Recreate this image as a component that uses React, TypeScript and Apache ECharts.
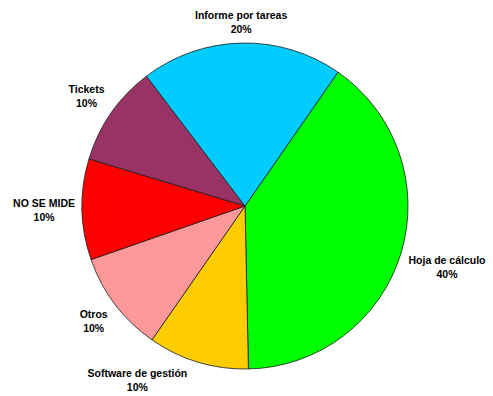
import React, { useEffect, useRef } from "react";
import * as echarts from "echarts";

const categories = ["Hoja de cálculo", "Software de gestión", "Otros", "NO SE MIDE", "Tickets", "Informe por tareas"];
const values = [40, 10, 10, 10, 10, 20];
const colors = ["#00ff00", "#ffcc00", "#ff9999", "#ff0000", "#993366", "#00ccff"];

const W = 493;
const H = 396;
const CX = 245;
const CY = 206;
const R = 163;
const GAP = 7;
const START_CW = 34.8; // degrees clockwise from 12 o'clock

function nearestDist(x: number, y: number, w: number, h: number) {
  const nx = Math.max(x - w / 2, Math.min(CX, x + w / 2));
  const ny = Math.max(y - h / 2, Math.min(CY, y + h / 2));
  return Math.hypot(nx - CX, ny - CY);
}

export default function App() {
  const ref = useRef<HTMLDivElement>(null);
  useEffect(() => {
    if (!ref.current) return;
    const chart = echarts.init(ref.current, undefined, { renderer: "svg" });
    const total = values.reduce((a, b) => a + b, 0);
    chart.setOption({
      animation: false,
      backgroundColor: "#ffffff",
      series: [
        {
          type: "pie",
          center: [CX, CY],
          radius: R,
          startAngle: 90 - START_CW,
          clockwise: true,
          avoidLabelOverlap: false,
          data: categories.map((name, i) => ({
            name,
            value: values[i],
            itemStyle: { color: colors[i] },
          })),
          itemStyle: { borderColor: "#1a1a1a", borderWidth: 0.8 },
          emphasis: { disabled: true },
          label: {
            show: true,
            position: "outside",
            formatter: "{b}\n{d}%",
            fontFamily: "Liberation Sans, Arial, sans-serif",
            fontWeight: "bold",
            fontSize: 10.5,
            lineHeight: 14,
            color: "#000",
            align: "center",
          },
          labelLine: { show: false },
          labelLayout: (params: any) => {
            const i = params.dataIndex;
            let cum = 0;
            for (let k = 0; k < i; k++) cum += values[k];
            const mid = ((START_CW + ((cum + values[i] / 2) / total) * 360) * Math.PI) / 180;
            const dx = Math.sin(mid);
            const dy = -Math.cos(mid);
            const w = params.labelRect.width;
            const h = params.labelRect.height;
            let d = R;
            let x = CX + dx * d;
            let y = CY + dy * d;
            while (nearestDist(x, y, w, h) < R + GAP && d < R + 200) {
              d += 0.5;
              x = CX + dx * d;
              y = CY + dy * d;
            }
            const m = 2;
            if (y + h / 2 > H - m || y - h / 2 < m) {
              y = Math.min(H - m - h / 2, Math.max(m + h / 2, y));
              const sx = dx < 0 ? -1 : 1;
              let guard = 0;
              while (nearestDist(x, y, w, h) < R + GAP && guard < 400) {
                x += sx * 0.5;
                guard++;
              }
            }
            return { x, y, align: "center", verticalAlign: "middle" };
          },
        },
      ],
    });
    return () => chart.dispose();
  }, []);
  return (
    <div
      ref={ref}
      style={{ position: "fixed", left: 0, top: 0, width: W, height: H, background: "#fff" }}
    />
  );
}
